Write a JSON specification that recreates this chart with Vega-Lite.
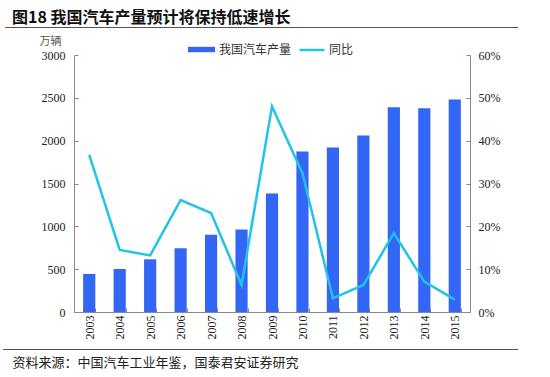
{
  "$schema": "https://vega.github.io/schema/vega-lite/v6.json",
  "width": 396,
  "height": 257,
  "autosize": {"type": "none"},
  "padding": {"left": 74, "top": 55, "right": 80, "bottom": 65},
  "background": "white",
  "config": {"view": {"stroke": null}},
  "title": {
    "text": "图18 我国汽车产量预计将保持低速增长",
    "anchor": "start",
    "frame": "group",
    "font": "Noto Sans CJK SC",
    "fontSize": 16,
    "fontWeight": "bold",
    "color": "#111111",
    "dx": -62,
    "offset": 1
  },
  "data": {
    "values": [
      {"year": "2003", "output": 444, "yoy": 0.367},
      {"year": "2004", "output": 502, "yoy": 0.145},
      {"year": "2005", "output": 615, "yoy": 0.132},
      {"year": "2006", "output": 744, "yoy": 0.261},
      {"year": "2007", "output": 903, "yoy": 0.231},
      {"year": "2008", "output": 962, "yoy": 0.063},
      {"year": "2009", "output": 1382, "yoy": 0.48},
      {"year": "2010", "output": 1873, "yoy": 0.324},
      {"year": "2011", "output": 1920, "yoy": 0.032},
      {"year": "2012", "output": 2060, "yoy": 0.063},
      {"year": "2013", "output": 2391, "yoy": 0.184},
      {"year": "2014", "output": 2379, "yoy": 0.071},
      {"year": "2015", "output": 2482, "yoy": 0.029}
    ]
  },
  "encoding": {
    "x": {
      "field": "year",
      "type": "ordinal",
      "scale": {"paddingInner": 0.6, "paddingOuter": 0.3},
      "axis": {
        "title": "资料来源：中国汽车工业年鉴，国泰君安证券研究",
        "titleFont": "Noto Sans CJK SC",
        "titleFontSize": 13,
        "titleFontWeight": "normal",
        "titleColor": "#222222",
        "titleAnchor": "start",
        "titleAlign": "left",
        "titleBaseline": "middle",
        "titleX": -62,
        "titleY": 50,
        "labelAngle": -90,
        "labelAlign": "right",
        "labelBaseline": "middle",
        "labelFont": "Times New Roman, Liberation Serif, serif",
        "labelFontSize": 12,
        "labelColor": "#222222",
        "labelPadding": 7,
        "domainColor": "#888888",
        "tickColor": "#888888",
        "tickBand": "extent",
        "tickSize": -4
      }
    }
  },
  "layer": [
    {
      "mark": {"type": "bar", "color": "#3366F5"},
      "encoding": {
        "y": {
          "field": "output",
          "type": "quantitative",
          "scale": {"domain": [0, 3000]},
          "axis": {
            "values": [0, 500, 1000, 1500, 2000, 2500, 3000],
            "format": "d",
            "grid": false,
            "title": "万辆",
            "titleAngle": 0,
            "titleFont": "Noto Sans CJK SC",
            "titleFontSize": 11,
            "titleFontWeight": "normal",
            "titleColor": "#555555",
            "titleAlign": "center",
            "titleBaseline": "middle",
            "titleX": -24,
            "titleY": -14,
            "labelFont": "Times New Roman, Liberation Serif, serif",
            "labelFontSize": 12,
            "labelColor": "#222222",
            "labelPadding": 13,
            "domainColor": "#888888",
            "tickColor": "#888888",
            "tickSize": -4
          }
        },
        "color": {
          "datum": "我国汽车产量",
          "scale": {"range": ["#3366F5"]},
          "legend": {
            "orient": "none",
            "legendX": 114,
            "legendY": -19,
            "title": null,
            "symbolType": "M-1,-0.2H1V0.2H-1Z",
            "symbolSize": 729,
            "symbolStrokeWidth": 0,
            "labelFont": "Noto Sans CJK SC",
            "labelFontSize": 12,
            "labelColor": "#333333",
            "labelOffset": 4
          }
        }
      }
    },
    {
      "mark": {"type": "line", "strokeWidth": 2.5, "color": "#22C3E8"},
      "encoding": {
        "y": {
          "field": "yoy",
          "type": "quantitative",
          "scale": {"domain": [0, 0.6]},
          "axis": {
            "orient": "right",
            "values": [0, 0.1, 0.2, 0.3, 0.4, 0.5, 0.6],
            "format": ".0%",
            "grid": false,
            "title": null,
            "labelFont": "Times New Roman, Liberation Serif, serif",
            "labelFontSize": 12,
            "labelColor": "#222222",
            "labelPadding": 12,
            "domainColor": "#888888",
            "tickColor": "#888888",
            "tickSize": -4
          }
        },
        "stroke": {
          "datum": "同比",
          "scale": {"range": ["#22C3E8"]},
          "legend": {
            "orient": "none",
            "legendX": 224,
            "legendY": -19,
            "title": null,
            "symbolType": "stroke",
            "symbolSize": 625,
            "symbolStrokeWidth": 2.5,
            "labelFont": "Noto Sans CJK SC",
            "labelFontSize": 12,
            "labelColor": "#333333",
            "labelOffset": 3
          }
        }
      }
    },
    {
      "data": {"values": [{}]},
      "mark": {"type": "rect", "color": "#555555"},
      "encoding": {"x": {"value": -69}, "x2": {"value": 444}, "y": {"value": -28}, "y2": {"value": -27}}
    },
    {
      "data": {"values": [{}]},
      "mark": {"type": "rect", "color": "#555555"},
      "encoding": {"x": {"value": -71}, "x2": {"value": 444}, "y": {"value": 294}, "y2": {"value": 295}}
    }
  ],
  "resolve": {"scale": {"y": "independent", "color": "independent", "stroke": "independent"}}
}
